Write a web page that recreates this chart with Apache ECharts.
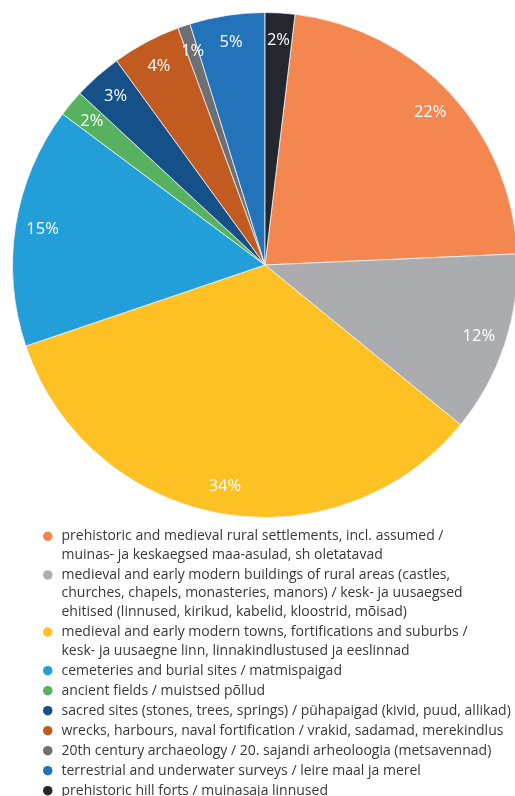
<!DOCTYPE html>
<html>
<head>
<meta charset="utf-8">
<script src="https://cdn.jsdelivr.net/npm/echarts@6/dist/echarts.min.js"></script>
<style>
html,body{margin:0;padding:0;background:#fff;}
#c{width:515px;height:796px;}
</style>
</head>
<body>
<div id="c"></div>
<script>
const categories = [
  "prehistoric and medieval rural settlements, incl. assumed /\nmuinas- ja keskaegsed maa-asulad, sh oletatavad",
  "medieval and early modern buildings of rural areas (castles,\nchurches, chapels, monasteries, manors) / kesk- ja uusaegsed\nehitised (linnused, kirikud, kabelid, kloostrid, mõisad)",
  "medieval and early modern towns, fortifications and suburbs /\nkesk- ja uusaegne linn, linnakindlustused ja eeslinnad",
  "cemeteries and burial sites / matmispaigad",
  "ancient fields / muistsed põllud",
  "sacred sites (stones, trees, springs) / pühapaigad (kivid, puud, allikad)",
  "wrecks, harbours, naval fortification / vrakid, sadamad, merekindlus",
  "20th century archaeology / 20. sajandi arheoloogia (metsavennad)",
  "terrestrial and underwater surveys / leire maal ja merel",
  "prehistoric hill forts / muinasaja linnused"
];
const values = [22.4, 11.6, 33.9, 15.4, 1.7, 3.1, 4.4, 0.8, 4.8, 1.9];
const colors = ["#F3874F", "#ABACAF", "#FDC124", "#229FD8", "#56B25E", "#165089", "#C15B1F", "#6E6F73", "#2273BA", "#24272D"];

const total = values.reduce((a, b) => a + b, 0);
const startAngle = 90 - 360 * values[values.length - 1] / total;
const data = categories.map((n, i) => ({ name: n, value: values[i], itemStyle: { color: colors[i] } }));

const LH = 18.6;
const rich = {
  t: { fontFamily: "Open Sans", fontSize: 14, lineHeight: LH, color: "#383838" },
  g: { width: 9, height: 9, lineHeight: LH },
  sp: { width: 18.5, height: 9, lineHeight: LH }
};
colors.forEach((c, i) => {
  rich["d" + i] = { width: 9.5, height: 9.5, lineHeight: LH, borderRadius: 4.75, backgroundColor: c };
});

const chart = echarts.init(document.getElementById('c'), null, { renderer: 'canvas' });
chart.setOption({
  animation: false,
  legend: {
    orient: 'vertical',
    left: 33,
    top: 522,
    itemGap: 1.4,
    itemWidth: 0,
    itemHeight: 0,
    icon: 'none',
    selectedMode: false,
    data: categories,
    formatter: function (name) {
      const idx = categories.indexOf(name);
      return name.split("\n").map((l, i) =>
        (i === 0 ? "{d" + idx + "|}{g|}" : "{sp|}") + "{t|" + l + "}"
      ).join("\n");
    },
    textStyle: { rich: rich, padding: 0, fontFamily: "Open Sans", fontSize: 14, lineHeight: LH }
  },
  series: [
    {
      type: 'pie',
      center: [265, 265],
      radius: [0, 252.5],
      startAngle: startAngle,
      clockwise: true,
      data: data,
      label: { show: false },
      labelLine: { show: false },
      itemStyle: { borderColor: '#f2f2f2', borderWidth: 0.8 },
      silent: true
    },
    {
      type: 'pie',
      center: [265, 265],
      radius: [192, 252.5],
      startAngle: startAngle,
      clockwise: true,
      data: data.map(d => ({ name: d.name, value: d.value, itemStyle: { color: 'rgba(0,0,0,0)' } })),
      label: {
        show: true,
        position: 'inside',
        color: '#fff',
        fontFamily: 'Open Sans',
        fontSize: 16.5,
        formatter: function (p) { return Math.round(p.value / total * 100) + '%'; }
      },
      labelLine: { show: false },
      itemStyle: { borderWidth: 0 },
      silent: true
    }
  ]
});
</script>
</body>
</html>
